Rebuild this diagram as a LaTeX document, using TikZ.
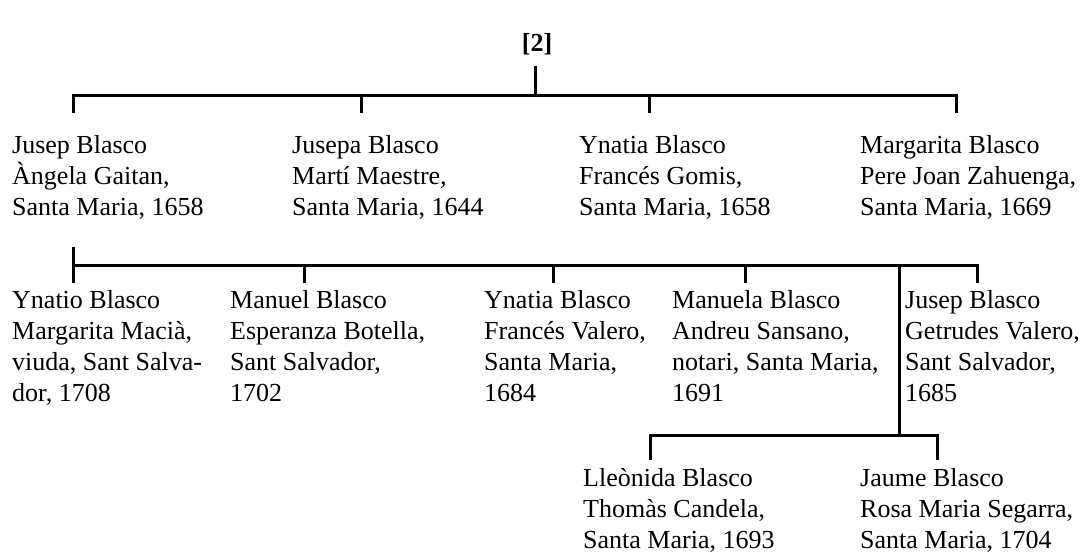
\documentclass[tikz,border=0pt]{standalone}
\usepackage{fontspec}
\setmainfont{Liberation Serif}
\begin{document}
\begin{tikzpicture}[x=1pt,y=-1pt,
  % each entry is placed by the baseline of its last line
  person/.style={anchor=base west,align=left,inner sep=0pt,
    font=\fontsize{26}{31}\selectfont},
  title/.style={anchor=base,inner sep=0pt,font=\fontsize{26}{31}\selectfont\bfseries},
  link/.style={line width=3pt,line join=miter,line cap=butt}]
\useasboundingbox (0,0) rectangle (1084,556);
\fill[white] (0,0) rectangle (1084,556);

% heading
\node[title] (head) at (537,52) {[2]};

% first generation
\node[person] (p1) at (12,215) {Jusep Blasco\\Àngela Gaitan,\\Santa Maria, 1658};
\node[person] (p2) at (292,215) {Jusepa Blasco\\Martí Maestre,\\Santa Maria, 1644};
\node[person] (p3) at (579,215) {Ynatia Blasco\\Francés Gomis,\\Santa Maria, 1658};
\node[person] (p4) at (860,215) {Margarita Blasco\\Pere Joan Zahuenga,\\Santa Maria, 1669};

% second generation
\node[person] (c1) at (12,401) {Ynatio Blasco\\Margarita Macià,\\viuda, Sant Salva-\\dor, 1708};
\node[person] (c2) at (230,401) {Manuel Blasco\\Esperanza Botella,\\Sant Salvador,\\1702};
\node[person] (c3) at (484,401) {Ynatia Blasco\\Francés Valero,\\Santa Maria,\\1684};
\node[person] (c4) at (672,401) {Manuela Blasco\\Andreu Sansano,\\notari, Santa Maria,\\1691};
\node[person] (c5) at (905,401) {Jusep Blasco\\Getrudes Valero,\\Sant Salvador,\\1685};

% third generation
\node[person] (g1) at (583,548) {Lleònida Blasco\\Thomàs Candela,\\Santa Maria, 1693};
\node[person] (g2) at (860,548) {Jaume Blasco\\Rosa Maria Segarra,\\Santa Maria, 1704};

% connector points
\coordinate (root) at (535,66);
\coordinate (rootbus) at (535,96);
\coordinate (d1) at (73,113);  \coordinate (t1) at (73,96);
\coordinate (d2) at (361,113); \coordinate (t2) at (361,96);
\coordinate (d3) at (649,113); \coordinate (t3) at (649,96);
\coordinate (d4) at (956,113); \coordinate (t4) at (956,96);

\coordinate (jb) at (73,247);
\coordinate (e1) at (73,283);  \coordinate (u1) at (73,265);
\coordinate (e2) at (304,283); \coordinate (u2) at (304,265);
\coordinate (e3) at (553,283); \coordinate (u3) at (553,265);
\coordinate (e4) at (745,283); \coordinate (u4) at (745,265);
\coordinate (e5) at (977,283); \coordinate (u5) at (977,265);
\coordinate (js) at (899,265);
\coordinate (jsbus) at (899,435);
\coordinate (f1) at (650,460); \coordinate (v1) at (650,435);
\coordinate (f2) at (937,460); \coordinate (v2) at (937,435);

% first generation bus
\draw[link] (root) -- (rootbus);
\draw[link] (d1) -- (t1) -- (t4) -- (d4);
\draw[link] (t2) -- (d2);
\draw[link] (t3) -- (d3);

% second generation bus
\draw[link] (jb) -- (e1);
\draw[link] (u1) -- (u5) -- (e5);
\draw[link] (u2) -- (e2);
\draw[link] (u3) -- (e3);
\draw[link] (u4) -- (e4);

% third generation bus
\draw[link] (js) -- (jsbus);
\draw[link] (f1) -- (v1) -- (v2) -- (f2);
\end{tikzpicture}
\end{document}
